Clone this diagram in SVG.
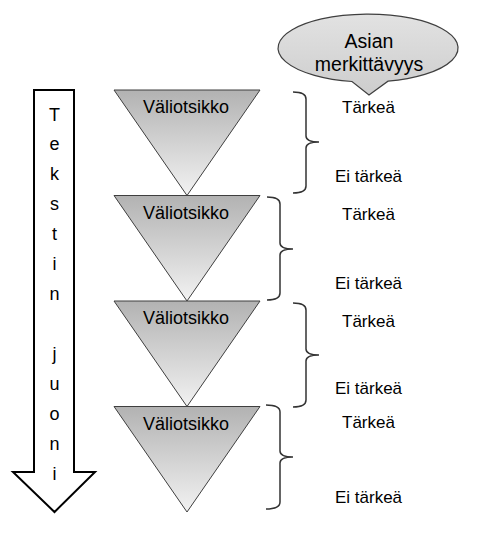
<svg xmlns="http://www.w3.org/2000/svg" width="478" height="534" viewBox="0 0 478 534">
<defs>
<linearGradient id="triGrad" x1="0" y1="0" x2="0" y2="1">
<stop offset="0" stop-color="#b2b2b2"/>
<stop offset="1" stop-color="#f2f2f2"/>
</linearGradient>
<linearGradient id="callGrad" x1="0" y1="0" x2="0" y2="1">
<stop offset="0" stop-color="#e2e2e2"/>
<stop offset="1" stop-color="#cdcdcd"/>
</linearGradient>
</defs>
<style>
text{font-family:"Liberation Sans",Arial,sans-serif;fill:#000}
.tri{fill:url(#triGrad);stroke:#3f3f3f;stroke-width:1}
.tt{font-size:18px;text-anchor:middle}
.lbl{font-size:17px;text-anchor:middle}
.brace{fill:none;stroke:#333;stroke-width:1.5}
.ar{font-size:18px;text-anchor:middle}
</style>
<rect width="478" height="534" fill="#fff"/>

<g id="callout">
<path d="M352,81.5 A90,34 0 1,1 388,81.2 L369,95 Z" fill="url(#callGrad)" stroke="#3f3f3f" stroke-width="1.2"/>
<text x="369" y="48" style="font-size:19.5px;text-anchor:middle">Asian</text>
<text x="369" y="71" style="font-size:19.5px;text-anchor:middle">merkittävyys</text>
</g>

<g id="arrow">
<polygon points="34,90 74,90 74,472 95,472 54.5,512 13,472 34,472" fill="#fff" stroke="#000" stroke-width="2"/>
<text class="ar" x="54.5" y="121">T</text>
<text class="ar" x="54.5" y="150">e</text>
<text class="ar" x="54.5" y="180">k</text>
<text class="ar" x="54.5" y="210">s</text>
<text class="ar" x="54.5" y="240">t</text>
<text class="ar" x="54.5" y="270">i</text>
<text class="ar" x="54.5" y="300">n</text>
<text class="ar" x="54.5" y="360">j</text>
<text class="ar" x="54.5" y="390">u</text>
<text class="ar" x="54.5" y="420">o</text>
<text class="ar" x="54.5" y="450">n</text>
<text class="ar" x="54.5" y="480">i</text>
</g>

<g id="tri1">
<polygon class="tri" points="114,90 260,90 187,195.5"/>
<text class="tt" x="186" y="113">Väliotsikko</text>
</g>
<g id="tri2">
<polygon class="tri" points="114,195.5 260,195.5 187,301"/>
<text class="tt" x="186" y="219">Väliotsikko</text>
</g>
<g id="tri3">
<polygon class="tri" points="114,301 260,301 187,406.5"/>
<text class="tt" x="186" y="324">Väliotsikko</text>
</g>
<g id="tri4">
<polygon class="tri" points="114,406.5 260,406.5 187,512"/>
<text class="tt" x="186" y="430">Väliotsikko</text>
</g>

<g id="connectors">
<path class="brace" d="M293,92 Q306,92 306,99 L306,136 Q306,142 319,142 Q306,142 306,148 L306,186 Q306,193 293,193"/>
<path class="brace" d="M267,197 Q280,197 280,204 L280,243 Q280,249 293,249 Q280,249 280,255 L280,293 Q280,300 267,300"/>
<path class="brace" d="M293,303 Q306,303 306,310 L306,349 Q306,355 319,355 Q306,355 306,361 L306,400 Q306,407 293,407"/>
<path class="brace" d="M266,405 Q280,405 280,412 L280,451 Q280,457 293,457 Q280,457 280,463 L280,502 Q280,509 266,509"/>
</g>

<g id="labels">
<text class="lbl" x="368.5" y="113">Tärkeä</text>
<text class="lbl" x="368.5" y="182">Ei tärkeä</text>
<text class="lbl" x="368.5" y="220">Tärkeä</text>
<text class="lbl" x="368.5" y="289">Ei tärkeä</text>
<text class="lbl" x="368.5" y="327">Tärkeä</text>
<text class="lbl" x="368.5" y="394">Ei tärkeä</text>
<text class="lbl" x="368.5" y="428">Tärkeä</text>
<text class="lbl" x="368.5" y="503">Ei tärkeä</text>
</g>
</svg>
